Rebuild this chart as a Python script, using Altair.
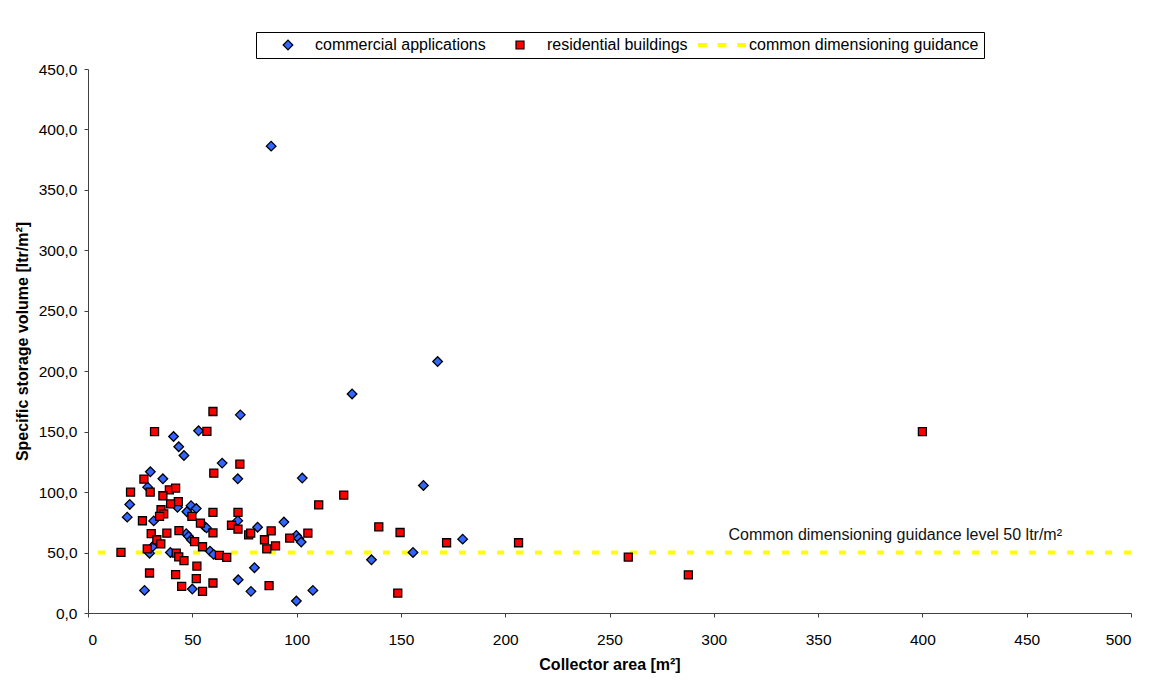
import altair as alt
import pandas as pd

# ---- data ----
commercial_x = [87.8, 126.6, 167.6, 160.8, 135.9, 155.8, 179.6, 73.0, 53.0, 41.0,
                43.5, 46.0, 64.3, 29.9, 35.9, 71.8, 102.7, 28.6, 20.0, 18.8,
                31.5, 42.9, 49.4, 51.9, 47.4, 55.9, 56.8, 71.8, 81.3, 93.9,
                47.1, 48.2, 49.5, 30.9, 29.5, 39.5, 58.5, 60.2, 99.9, 101.0,
                102.2, 79.8, 72.0, 27.1, 50.0, 78.1, 107.8, 99.9]
commercial_y = [386.2, 181.2, 208.0, 105.5, 44.0, 50.1, 61.1, 163.9, 150.7, 146.0,
                137.5, 130.3, 124.0, 116.8, 111.0, 111.0, 111.6, 104.1, 89.8, 79.3,
                76.2, 87.4, 88.8, 86.4, 83.8, 71.6, 70.4, 76.4, 71.0, 75.2,
                65.6, 63.4, 60.6, 54.8, 49.4, 50.1, 51.2, 48.5, 64.2, 61.7,
                58.7, 37.5, 27.5, 18.7, 19.8, 17.9, 18.7, 9.9]

residential_x = [59.9, 31.9, 57.0, 72.8, 60.3, 26.8, 20.4, 29.8, 39.0, 42.0,
                 35.9, 43.3, 39.6, 110.6, 35.0, 36.3, 34.3, 59.9, 71.9, 49.8,
                 26.1, 53.9, 68.8, 71.9, 43.6, 30.3, 37.8, 59.9, 77.0, 78.0,
                 33.0, 34.9, 51.1, 84.6, 87.8, 96.7, 105.4, 89.9, 85.7, 54.9,
                 28.4, 15.8, 42.3, 43.5, 46.0, 63.0, 66.5, 52.2, 29.5, 42.0,
                 51.9, 44.9, 59.9, 54.9, 86.8, 122.6, 139.4, 149.6, 148.5, 171.9,
                 206.4, 259.0, 287.8, 400.0]
residential_y = [166.7, 150.0, 150.2, 123.1, 115.7, 110.7, 100.0, 100.0, 101.9, 103.3,
                 97.0, 92.2, 90.2, 89.5, 85.4, 82.0, 79.9, 83.3, 83.3, 79.9,
                 76.3, 74.4, 72.6, 69.4, 68.2, 65.6, 66.0, 66.2, 64.6, 66.0,
                 60.6, 57.2, 59.0, 60.6, 68.0, 62.0, 66.1, 55.6, 53.0, 54.8,
                 53.0, 50.1, 49.6, 46.4, 43.3, 47.6, 46.0, 38.8, 33.1, 31.7,
                 28.4, 22.0, 24.8, 17.9, 22.6, 97.5, 71.3, 66.6, 16.5, 58.1,
                 58.1, 46.3, 31.5, 150.0]

series_names = ["commercial applications", "residential buildings",
                "common dimensioning guidance"]
series_colors = ["#3366FF", "#FF0000", "#FFFF00"]
guidance_level = 50
x_ticks = list(range(0, 501, 50))
y_ticks = list(range(0, 451, 50))
annotation_text = "Common dimensioning guidance level 50 ltr/m²"
annotation_x = 387
annotation_y = 64.7

df = pd.DataFrame({
    "area": commercial_x + residential_x,
    "volume": commercial_y + residential_y,
    "series": [series_names[0]] * len(commercial_x) + [series_names[1]] * len(residential_x),
})
one_row = pd.DataFrame({"label": [annotation_text]})

FONT = "Liberation Sans"
diamond_symbol = "M-1.2,0L0,-1.2L1.2,0L0,1.2Z"
dash_symbol = "M-6,-0.5H-3.8V0.5H-6Z M-1.1,-0.5H1.1V0.5H-1.1Z M3.8,-0.5H6V0.5H3.8Z"

legend = alt.Legend(
    title=None, orient="none", legendX=168, legendY=-37, direction="horizontal",
    strokeColor="black", fillColor="white", padding=5,
    labelFont=FONT, labelFontSize=16, labelColor="black", labelLimit=0,
    labelOffset=19, symbolOffset=19, columnPadding=7, symbolSize=64,
    symbolStrokeWidth=1.2,
)

x_enc = alt.X("area:Q", scale=alt.Scale(domain=[0, 500], nice=False),
              axis=alt.Axis(values=x_ticks, format="d", title="Collector area [m²]",
                            grid=False, domainColor="#404040", tickColor="#404040",
                            tickSize=4, labelPadding=15, labelFont=FONT,
                            labelFontSize=15.5, labelColor="black",
                            titleFont=FONT, titleFontSize=16, titleFontWeight="bold",
                            titleColor="black", titleY=51, titleBaseline="middle"))
y_enc = alt.Y("volume:Q", scale=alt.Scale(domain=[0, 450], nice=False),
              axis=alt.Axis(values=y_ticks,
                            labelExpr="replace(format(datum.value, '.1f'), '.', ',')",
                            title="Specific storage volume [ltr/m²]",
                            grid=False, domainColor="#404040", tickColor="#404040",
                            tickSize=4, labelPadding=7, labelFont=FONT,
                            labelFontSize=15.5, labelColor="black",
                            titleFont=FONT, titleFontSize=16, titleFontWeight="bold",
                            titleColor="black", titleX=-65.3, titleY=272,
                            titleBaseline="middle", titleAlign="center"))

guide_line = alt.Chart(one_row).mark_rule(
    color="#FFFF00", strokeWidth=4, strokeDash=[7, 12], strokeCap="butt"
).encode(y=alt.datum(guidance_level))

points = alt.Chart(df).mark_point(filled=True, size=64, strokeWidth=1.3, opacity=1).encode(
    x=x_enc,
    y=y_enc,
    color=alt.Color("series:N", scale=alt.Scale(domain=series_names, range=series_colors),
                    legend=legend),
    shape=alt.Shape("series:N", scale=alt.Scale(domain=series_names,
                                                range=[diamond_symbol, "square", dash_symbol]),
                    legend=legend),
    stroke=alt.Stroke("series:N", scale=alt.Scale(domain=series_names,
                                                  range=["#000000", "#000000", "transparent"]),
                      legend=legend),
)

label = alt.Chart(one_row).mark_text(
    font=FONT, fontSize=16, color="#111111", align="center", baseline="middle"
).encode(x=alt.datum(annotation_x), y=alt.datum(annotation_y), text="label:N")

chart = alt.layer(guide_line, points, label).properties(
    width=1043, height=544,
    padding={"left": 80, "top": 61, "right": 13, "bottom": 62},
    autosize=alt.AutoSizeParams(type="none"),
).configure_view(stroke=None)

chart.save("out.html", embed_options={"renderer": "svg", "actions": False})
